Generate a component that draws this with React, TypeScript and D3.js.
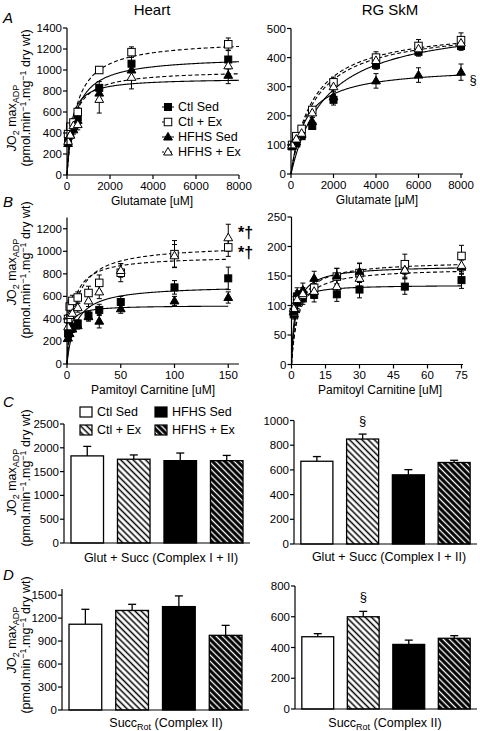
import React from 'react';
import * as d3 from 'd3';

const FONT = "'Liberation Sans', Arial, Helvetica, sans-serif";

// ---------- groups ----------
const groupNames = ['Ctl Sed', 'Ctl + Ex', 'HFHS Sed', 'HFHS + Ex'];
const groupShape = ['square', 'square', 'triangle', 'triangle'];
const groupFilled = [true, false, true, false];
const groupDashed = [false, true, false, true];

// ---------- Panel A: Heart, glutamate ----------
const glutHeartX = [50, 150, 300, 500, 1500, 3000, 7500];
const aHeartCtlSed = [320, 400, 470, 550, 830, 1060, 1100];
const aHeartCtlEx = [390, 460, 500, 600, 1000, 1170, 1245];
const aHeartHfhsSed = [300, 380, 430, 520, 780, 1000, 950];
const aHeartHfhsEx = [320, 380, 470, 480, 720, 930, 1040];
const aHeartCtlSedErr = [30, 30, 40, 40, 60, 80, 90];
const aHeartCtlExErr = [30, 30, 40, 40, 30, 50, 60];
const aHeartHfhsSedErr = [30, 30, 40, 40, 60, 80, 80];
const aHeartHfhsExErr = [30, 40, 40, 50, 130, 110, 80];
const aHeartVmax = [1132, 1291, 923, 1000];
const aHeartKm = [395, 436, 188, 300];

// ---------- Panel A: RG SkM, glutamate ----------
const glutSkmX = [50, 250, 500, 1000, 2000, 4000, 6000, 8000];
const aSkmCtlSed = [95, 105, 130, 165, 255, 375, 420, 440];
const aSkmCtlEx = [100, 130, 155, 220, 315, 400, 440, 460];
const aSkmHfhsSed = [95, 110, 135, 180, 265, 320, 340, 350];
const aSkmHfhsEx = [100, 120, 140, 210, 300, 390, 430, 450];
const aSkmCtlSedErr = [8, 8, 10, 10, 18, 15, 15, 15];
const aSkmCtlExErr = [8, 8, 10, 10, 18, 20, 22, 25];
const aSkmHfhsSedErr = [8, 8, 10, 15, 20, 25, 25, 28];
const aSkmHfhsExErr = [8, 8, 10, 15, 18, 20, 20, 20];
const aSkmVmax = [531, 508, 369, 507];
const aSkmKm = [1666, 1033, 686, 1123];

// ---------- Panel B: Heart, palmitoyl carnitine ----------
const pcHeartX = [1, 2.5, 5, 10, 20, 30, 50, 100, 150];
const bHeartCtlSed = [270, 310, 330, 360, 430, 480, 550, 680, 760];
const bHeartCtlEx = [400, 510, 560, 590, 630, 720, 810, 975, 1035];
const bHeartHfhsSed = [230, 270, 310, 340, 420, 380, 490, 560, 590];
const bHeartHfhsEx = [330, 430, 450, 500, 560, 640, 830, 960, 1120];
const bHeartCtlSedErr = [30, 30, 30, 30, 40, 50, 50, 60, 100];
const bHeartCtlExErr = [40, 50, 50, 50, 60, 70, 80, 120, 80];
const bHeartHfhsSedErr = [30, 30, 30, 30, 40, 60, 40, 40, 50];
const bHeartHfhsExErr = [40, 40, 40, 40, 50, 60, 60, 100, 120];
const bHeartVmax = [700, 960, 520, 1060];
const bHeartKm = [8, 5, 2, 8];

// ---------- Panel B: RG SkM, palmitoyl carnitine ----------
const pcSkmX = [1, 2.5, 5, 10, 20, 30, 50, 75];
const bSkmCtlSed = [85, 105, 112, 118, 119, 127, 132, 143];
const bSkmCtlEx = [89, 115, 118, 130, 149, 155, 170, 184];
const bSkmHfhsSed = [90, 120, 126, 146, 150, 157, 160, 165];
const bSkmHfhsEx = [95, 110, 120, 124, 132, 146, 160, 168];
const bSkmCtlSedErr = [8, 10, 10, 12, 12, 14, 13, 14];
const bSkmCtlExErr = [8, 10, 12, 12, 14, 16, 17, 18];
const bSkmHfhsSedErr = [8, 10, 12, 12, 13, 15, 12, 12];
const bSkmHfhsExErr = [8, 10, 10, 12, 12, 13, 14, 14];
const bSkmVmax = [135, 176, 168, 164];
const bSkmKm = [1, 3, 2, 3];

// ---------- Panels C & D: bars ----------
const cHeart = [1830, 1760, 1730, 1730];
const cHeartErr = [200, 90, 160, 110];
const cSkm = [670, 850, 560, 660];
const cSkmErr = [38, 40, 42, 18];
const dHeart = [1120, 1300, 1350, 975];
const dHeartErr = [195, 80, 140, 130];
const dSkm = [470, 600, 420, 460];
const dSkmErr = [20, 35, 28, 17];

// ---------- ticks ----------
const glutTicks = [0, 2000, 4000, 6000, 8000];
const aHeartYTicks = [0, 200, 400, 600, 800, 1000, 1200, 1400];
const aSkmYTicks = [0, 100, 200, 300, 400, 500];
const bHeartXTicks = [0, 50, 100, 150];
const bHeartYTicks = [0, 200, 400, 600, 800, 1000, 1200];
const bSkmXTicks = [0, 15, 30, 45, 60, 75];
const bSkmYTicks = [0, 50, 100, 150, 200, 250];
const cHeartTicks = [0, 500, 1000, 1500, 2000, 2500];
const cSkmTicks = [0, 200, 400, 600, 800, 1000];
const dHeartTicks = [0, 300, 600, 900, 1200, 1500];
const dSkmTicks = [0, 200, 400, 600, 800];

const barFills = ['#fff', 'url(#hatchW)', '#000', 'url(#hatchB)'];

function Marker({ cx, cy, shape, filled }: any) {
  const fill = filled ? '#000' : '#fff';
  if (shape === 'square') {
    const s = filled ? 7 : 7.5;
    return <rect x={cx - s / 2} y={cy - s / 2} width={s} height={s} fill={fill} stroke="#000" strokeWidth={1} />;
  }
  return (
    <path
      d={`M${cx},${cy - 4.6}L${cx + 4.4},${cy + 3}L${cx - 4.4},${cy + 3}Z`}
      fill={fill}
      stroke="#000"
      strokeWidth={1}
    />
  );
}

function AxisLeft({ y, x0, ticks, top }: any) {
  const r = y.range();
  return (
    <g fontFamily={FONT} fontSize={11.5}>
      <line x1={x0} x2={x0} y1={r[0]} y2={top !== undefined ? top : r[1]} stroke="#000" strokeWidth={1.2} />
      {ticks.map((t: number) => (
        <g key={t}>
          <line x1={x0 - 4} x2={x0} y1={y(t)} y2={y(t)} stroke="#000" strokeWidth={1.2} />
          <text x={x0 - 5} y={y(t)} dy="0.35em" textAnchor="end">{t}</text>
        </g>
      ))}
    </g>
  );
}

function AxisBottom({ x, y0, ticks, end }: any) {
  const r = x.range();
  return (
    <g fontFamily={FONT} fontSize={11.5}>
      <line x1={r[0]} x2={end !== undefined ? end : r[1]} y1={y0} y2={y0} stroke="#000" strokeWidth={1.2} />
      {ticks.map((t: number) => (
        <g key={t}>
          <line x1={x(t)} x2={x(t)} y1={y0} y2={y0 + 4} stroke="#000" strokeWidth={1.2} />
          <text x={x(t)} y={y0 + 14.5} textAnchor="middle">{t}</text>
        </g>
      ))}
    </g>
  );
}

function Scatter({ xDomain, xRange, yDomain, yRange, xTicks, yTicks, xs, means, errs, vmax, km, curveEnd, xEnd, yTop }: any) {
  const x = d3.scaleLinear().domain(xDomain).range(xRange);
  const y = d3.scaleLinear().domain(yDomain).range(yRange);
  const samples = d3.range(0, 301).map((i) => curveEnd * Math.pow(i / 300, 2));
  const curvePath = (g: number) =>
    d3
      .line<number>()
      .x((d) => x(d))
      .y((d) => y((vmax[g] * d) / (km[g] + d)))(samples) || '';
  return (
    <g>
      {groupNames.map((_, g) => (
        <path
          key={'c' + g}
          d={curvePath(g)}
          fill="none"
          stroke="#000"
          strokeWidth={1.1}
          strokeDasharray={groupDashed[g] ? '4,2.5' : undefined}
        />
      ))}
      {groupNames.map((_, g) => (
        <g key={'e' + g}>
          {xs.map((xv: number, i: number) => {
            const m = means[g][i];
            const e = errs[g][i];
            const cx = x(xv);
            return (
              <g key={i} stroke="#000" strokeWidth={1}>
                <line x1={cx} x2={cx} y1={y(m - e)} y2={y(m + e)} />
                <line x1={cx - 2.5} x2={cx + 2.5} y1={y(m + e)} y2={y(m + e)} />
                <line x1={cx - 2.5} x2={cx + 2.5} y1={y(m - e)} y2={y(m - e)} />
              </g>
            );
          })}
        </g>
      ))}
      {groupNames.map((_, g) => (
        <g key={'m' + g}>
          {xs.map((xv: number, i: number) => (
            <Marker key={i} cx={x(xv)} cy={y(means[g][i])} shape={groupShape[g]} filled={groupFilled[g]} />
          ))}
        </g>
      ))}
      <AxisLeft y={y} x0={xRange[0]} ticks={yTicks} top={yTop} />
      <AxisBottom x={x} y0={yRange[0]} ticks={xTicks} end={xEnd} />
    </g>
  );
}

function Bars({ xRange, yDomain, yRange, ticks, values, errs, label, labelX, labelY, mark, markY }: any) {
  const xb = d3.scaleBand<number>().domain([0, 1, 2, 3]).range(xRange).paddingInner(0.3).paddingOuter(0.15);
  const y = d3.scaleLinear().domain(yDomain).range(yRange);
  const bw = xb.bandwidth();
  return (
    <g>
      {values.map((v: number, i: number) => {
        const bx = xb(i) as number;
        const cx = bx + bw / 2;
        return (
          <g key={i}>
            <line x1={cx} x2={cx} y1={y(v)} y2={y(v + errs[i])} stroke="#000" strokeWidth={1.3} />
            <line x1={cx - 4} x2={cx + 4} y1={y(v + errs[i])} y2={y(v + errs[i])} stroke="#000" strokeWidth={1.3} />
            <rect x={bx} y={y(v)} width={bw} height={y(0) - y(v)} fill={barFills[i]} stroke="#000" strokeWidth={1.3} />
          </g>
        );
      })}
      {mark && (
        <text x={(xb(1) as number) + bw / 2} y={markY} textAnchor="middle" fontFamily={FONT} fontSize={13}>
          §
        </text>
      )}
      <AxisLeft y={y} x0={xRange[0]} ticks={ticks} />
      <line x1={xRange[0]} x2={xRange[1]} y1={y(0)} y2={y(0)} stroke="#000" strokeWidth={1.2} />
      {label && (
        <text x={labelX} y={labelY} textAnchor="middle" fontFamily={FONT} fontSize={12.5}>
          {label}
        </text>
      )}
    </g>
  );
}

function YLabel({ c1, c2 }: any) {
  return (
    <g fontFamily={FONT} fontSize={12.5}>
      <text transform={`translate(16,${c1}) rotate(-90)`} textAnchor="middle">
        <tspan fontStyle="italic">J</tspan>O<tspan dy={3} fontSize={9}>2</tspan>
        <tspan dy={-3}> max</tspan>
        <tspan dy={3} fontSize={9}>ADP</tspan>
      </text>
      <text transform={`translate(29.5,${c2}) rotate(-90)`} textAnchor="middle">
        (pmol.min<tspan dy={-4} fontSize={9}>−1</tspan>
        <tspan dy={4}>.mg</tspan>
        <tspan dy={-4} fontSize={9}>−1</tspan>
        <tspan dy={4}> dry wt)</tspan>
      </text>
    </g>
  );
}

function SuccRot({ x, y }: any) {
  return (
    <text x={x} y={y} textAnchor="middle" fontFamily={FONT} fontSize={12.5}>
      Succ<tspan dy={3} fontSize={9}>Rot</tspan>
      <tspan dy={-3}> (Complex II)</tspan>
    </text>
  );
}

export default function App() {
  const legendRows = [107, 122, 137, 152];
  return (
    <svg
      width={480}
      height={731}
      viewBox="0 0 480 731"
      style={{ position: 'absolute', left: 0, top: 0, background: '#fff' }}
    >
      <defs>
        <pattern id="hatchW" patternUnits="userSpaceOnUse" width={4.4} height={4.4} patternTransform="rotate(-45)">
          <rect width={4.4} height={4.4} fill="#fff" />
          <line x1={2.2} x2={2.2} y1={0} y2={4.4} stroke="#000" strokeWidth={1.5} />
        </pattern>
        <pattern id="hatchB" patternUnits="userSpaceOnUse" width={4.4} height={4.4} patternTransform="rotate(-45)">
          <rect width={4.4} height={4.4} fill="#000" />
          <line x1={2.2} x2={2.2} y1={0} y2={4.4} stroke="#fff" strokeWidth={1.3} />
        </pattern>
      </defs>
      <rect width={480} height={731} fill="#fff" />

      {/* titles */}
      <text x={152} y={15} textAnchor="middle" fontFamily={FONT} fontSize={15}>Heart</text>
      <text x={390} y={15} textAnchor="middle" fontFamily={FONT} fontSize={15}>RG SkM</text>

      {/* panel letters */}
      <g fontFamily={FONT} fontSize={15} fontStyle="italic">
        <text x={3} y={23}>A</text>
        <text x={3} y={207}>B</text>
        <text x={3} y={407}>C</text>
        <text x={3} y={580}>D</text>
      </g>

      {/* y labels */}
      <YLabel c1={118} c2={98} />
      <YLabel c1={272} c2={270} />
      <YLabel c1={482} c2={478} />
      <YLabel c1={640} c2={645} />

      {/* Panel A heart */}
      <Scatter
        xDomain={[0, 8000]} xRange={[67, 239]} yDomain={[0, 1400]} yRange={[175, 28]}
        xTicks={glutTicks} yTicks={aHeartYTicks} xs={glutHeartX}
        means={[aHeartCtlSed, aHeartCtlEx, aHeartHfhsSed, aHeartHfhsEx]}
        errs={[aHeartCtlSedErr, aHeartCtlExErr, aHeartHfhsSedErr, aHeartHfhsExErr]}
        vmax={aHeartVmax} km={aHeartKm} curveEnd={8000}
      />
      <text x={152} y={205} textAnchor="middle" fontFamily={FONT} fontSize={12}>Glutamate [uM]</text>
      {groupNames.map((n, g) => (
        <g key={n}>
          <line x1={162} x2={174} y1={legendRows[g]} y2={legendRows[g]} stroke="#000" strokeWidth={1}
            strokeDasharray={groupDashed[g] ? '2,2' : undefined} />
          <Marker cx={168} cy={legendRows[g]} shape={groupShape[g]} filled={groupFilled[g]} />
          <text x={178} y={legendRows[g]} dy="0.35em" fontFamily={FONT} fontSize={12.5}>{n}</text>
        </g>
      ))}

      {/* Panel A SkM */}
      <Scatter
        xDomain={[0, 8000]} xRange={[291, 461]} yDomain={[0, 500]} yRange={[174, 28.5]}
        xTicks={glutTicks} yTicks={aSkmYTicks} xs={glutSkmX}
        means={[aSkmCtlSed, aSkmCtlEx, aSkmHfhsSed, aSkmHfhsEx]}
        errs={[aSkmCtlSedErr, aSkmCtlExErr, aSkmHfhsSedErr, aSkmHfhsExErr]}
        vmax={aSkmVmax} km={aSkmKm} curveEnd={8000} xEnd={463}
      />
      <text x={473} y={84} textAnchor="middle" fontFamily={FONT} fontSize={13}>§</text>
      <text x={377} y={204} textAnchor="middle" fontFamily={FONT} fontSize={12}>Glutamate [μM]</text>

      {/* Panel B heart */}
      <Scatter
        xDomain={[0, 160]} xRange={[67, 239]} yDomain={[0, 1300]} yRange={[364, 217.5]}
        xTicks={bHeartXTicks} yTicks={bHeartYTicks} xs={pcHeartX}
        means={[bHeartCtlSed, bHeartCtlEx, bHeartHfhsSed, bHeartHfhsEx]}
        errs={[bHeartCtlSedErr, bHeartCtlExErr, bHeartHfhsSedErr, bHeartHfhsExErr]}
        vmax={bHeartVmax} km={bHeartKm} curveEnd={150}
      />
      <g fontFamily={FONT} fontSize={16} fontWeight="bold">
        <text x={238} y={238}>*†</text>
        <text x={238} y={258}>*†</text>
      </g>
      <text x={153} y={394} textAnchor="middle" fontFamily={FONT} fontSize={12}>Pamitoyl Carnitine [uM]</text>

      {/* Panel B SkM */}
      <Scatter
        xDomain={[0, 75]} xRange={[291.5, 461.5]} yDomain={[0, 250]} yRange={[364.5, 217]}
        xTicks={bSkmXTicks} yTicks={bSkmYTicks} xs={pcSkmX}
        means={[bSkmCtlSed, bSkmCtlEx, bSkmHfhsSed, bSkmHfhsEx]}
        errs={[bSkmCtlSedErr, bSkmCtlExErr, bSkmHfhsSedErr, bSkmHfhsExErr]}
        vmax={bSkmVmax} km={bSkmKm} curveEnd={75} xEnd={463}
      />
      <text x={380} y={394} textAnchor="middle" fontFamily={FONT} fontSize={12}>Pamitoyl Carnitine [uM]</text>

      {/* Legend C */}
      <g fontFamily={FONT} fontSize={12.5}>
        {groupNames.map((n, g) => {
          const col = g < 2 ? 0 : 1;
          const row = g % 2;
          const bx = col === 0 ? 80 : 155;
          const by = row === 0 ? 412 : 430;
          return (
            <g key={n}>
              <rect x={bx} y={by - 5} width={12} height={10} fill={barFills[g]} stroke="#000" strokeWidth={1.2} />
              <text x={bx + 17} y={by} dy="0.35em">{n}</text>
            </g>
          );
        })}
      </g>

      {/* Panel C */}
      <Bars xRange={[64, 250]} yDomain={[0, 2500]} yRange={[543, 424]} ticks={cHeartTicks}
        values={cHeart} errs={cHeartErr} label="Glut + Succ (Complex I + II)" labelX={161} labelY={562} />
      <Bars xRange={[294, 477]} yDomain={[0, 1000]} yRange={[544, 420.5]} ticks={cSkmTicks}
        values={cSkm} errs={cSkmErr} label="Glut + Succ (Complex I + II)" labelX={389} labelY={561}
        mark markY={425} />

      {/* Panel D */}
      <Bars xRange={[62, 249]} yDomain={[0, 1580]} yRange={[710, 589]} ticks={dHeartTicks}
        values={dHeart} errs={dHeartErr} label="" labelX={0} labelY={0} />
      <SuccRot x={166} y={727} />
      <Bars xRange={[295, 477]} yDomain={[0, 800]} yRange={[709, 586]} ticks={dSkmTicks}
        values={dSkm} errs={dSkmErr} label="" labelX={0} labelY={0} mark markY={601} />
      <SuccRot x={385} y={727} />
    </svg>
  );
}
